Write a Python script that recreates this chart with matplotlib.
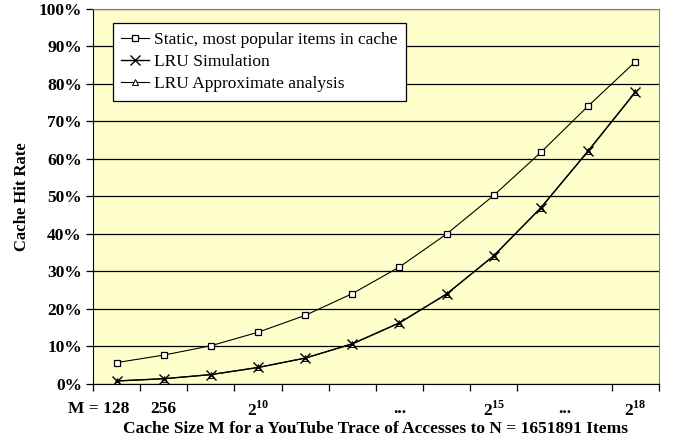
import numpy as np
import matplotlib
matplotlib.use("Agg")
import matplotlib.pyplot as plt
from matplotlib.ticker import FixedLocator, PercentFormatter

# cache sizes 2^7 .. 2^18
exponents = list(range(7, 19))
static_hits = [5.7, 7.7, 10.2, 13.8, 18.3, 24.1, 31.2, 40.0, 50.3, 61.8, 74.1, 85.9]
lru_sim = [0.8, 1.4, 2.5, 4.4, 6.9, 10.7, 16.3, 24.0, 34.2, 47.0, 62.1, 77.8]
lru_approx = [0.8, 1.4, 2.5, 4.4, 6.9, 10.7, 16.3, 24.0, 34.2, 47.0, 62.1, 77.8]

tick_pos = [-0.38, 1, 3, 6, 8, 9.5, 11]
tick_labels = ["M = 128", "256", r"2$^{\mathbf{10}}$", "...", r"2$^{\mathbf{15}}$", "...", r"2$^{\mathbf{18}}$"]

plt.rcParams["font.family"] = ["Liberation Serif", "DejaVu Serif"]
plt.rcParams["mathtext.fontset"] = "custom"
plt.rcParams["mathtext.rm"] = "Liberation Serif:bold"
plt.rcParams["mathtext.bf"] = "Liberation Serif:bold"

fig = plt.figure(figsize=(6.75, 4.41), dpi=100)
ax = fig.add_axes([0.1378, 0.1293, 0.8382, 0.8503])
ax.set_facecolor("#FFFFCC")

x = np.arange(len(exponents))
ax.plot(x, static_hits, color="black", lw=0.8, marker="s", ms=5,
        mfc="white", mec="black", mew=0.9, label="Static, most popular items in cache")
ax.plot(x, lru_sim, color="black", lw=1.0, marker="x", ms=7, mew=1.0,
        label="LRU Simulation", zorder=3)
ax.plot(x, lru_approx, color="black", lw=0.8, marker="^", ms=4,
        mfc="white", mec="black", mew=0.7, label="LRU Approximate analysis", zorder=2)

ax.set_xlim(-0.5, len(exponents) - 0.5)
ax.set_ylim(0, 100)
ax.yaxis.set_major_locator(FixedLocator(np.arange(0, 101, 10)))
ax.yaxis.set_major_formatter(PercentFormatter(decimals=0))
ax.grid(axis="y", color="black", lw=0.9)
ax.set_axisbelow(True)

ax.set_xticks(tick_pos)
ax.set_xticklabels(tick_labels, fontweight="bold", fontsize=12.5)
ax.xaxis.set_minor_locator(FixedLocator(np.arange(-0.5, len(exponents), 1)))
ax.tick_params(axis="x", which="major", length=0, pad=12)
ax.tick_params(axis="x", which="minor", length=5, direction="out", width=0.9)
ax.tick_params(axis="y", length=5, direction="out", width=0.9, pad=3)
for lab in ax.get_yticklabels():
    lab.set_fontweight("bold")
    lab.set_fontsize(12.5)

for side in ["top", "right"]:
    ax.spines[side].set_color("#808080")
ax.spines["left"].set_color("black")
ax.spines["bottom"].set_color("black")

ax.set_ylabel("Cache Hit Rate", fontweight="bold", fontsize=12, labelpad=6)
ax.set_xlabel("Cache Size M for a YouTube Trace of Accesses to N = 1651891 Items",
              fontweight="bold", fontsize=12.5, labelpad=1)

leg = ax.legend(loc="upper left", bbox_to_anchor=(0.035, 0.963), fontsize=12.5,
                frameon=True, fancybox=False, edgecolor="black",
                handlelength=1.6, handletextpad=0.25, borderpad=0.5,
                labelspacing=0.35, borderaxespad=0)
leg.get_frame().set_linewidth(0.9)
leg.get_frame().set_facecolor("white")
leg.get_frame().set_alpha(1)

fig.savefig("out.png", dpi=100)
